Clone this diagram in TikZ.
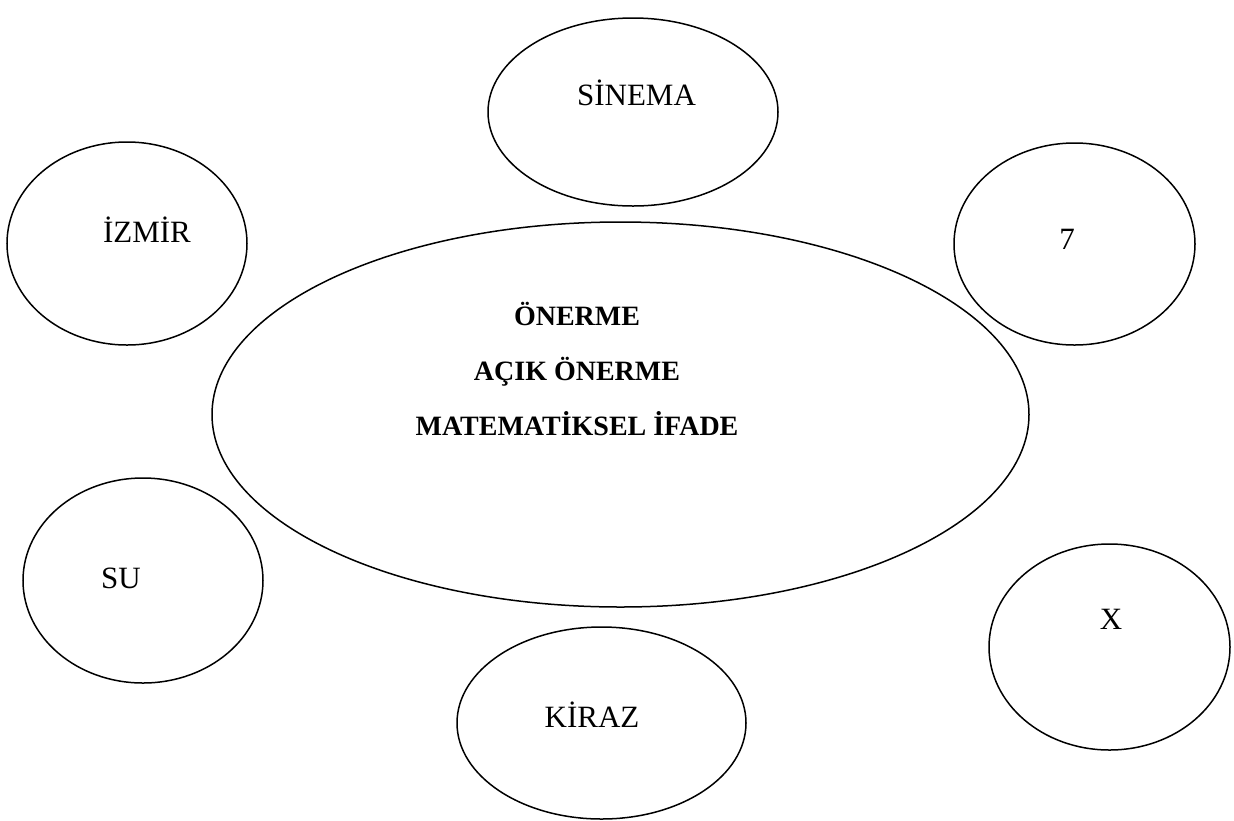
\documentclass[tikz,border=0pt]{standalone}
\usepackage{fontspec}
\setmainfont{Liberation Serif}
\usetikzlibrary{shapes}
\tikzset{
	oval/.style={draw,ellipse,line width=1.5pt,inner sep=0pt},
	word/.style={anchor=base,font=\fontsize{31}{36}\selectfont},
	bword/.style={anchor=base,font=\fontsize{28}{34}\selectfont\bfseries}
}
\begin{document}
\begin{tikzpicture}[x=1pt,y=-1pt]
\useasboundingbox (0,0) rectangle (1234,820);

%
\node[oval,minimum width=290,minimum height=188] (sinema) at (633,112) {};
\node[word] (tsinema) at (636.5,105) {SİNEMA};
\node[oval,minimum width=240,minimum height=203] (izmir) at (127,243.5) {};
\node[word] (tizmir) at (147,242) {İZMİR};
\node[oval,minimum width=241,minimum height=202] (yedi) at (1074.5,244) {};
\node[word] (tyedi) at (1067,249) {7};
\node[oval,minimum width=817,minimum height=385] (merkez) at (620.5,414.5) {};
\node[bword] (t1) at (577,325) {ÖNERME};
\node[bword] (t2) at (577,380) {AÇIK ÖNERME};
\node[bword] (t3) at (577,435) {MATEMATİKSEL İFADE};
\node[oval,minimum width=240,minimum height=205] (su) at (143,580.5) {};
\node[word] (tsu) at (121,588) {SU};
\node[oval,minimum width=241,minimum height=206] (x) at (1109.5,647) {};
\node[word] (tx) at (1111,629) {X};
\node[oval,minimum width=289,minimum height=192] (kiraz) at (601.5,723) {};
\node[word] (tkiraz) at (592,727) {KİRAZ};
%\draw[thick] (620,415) ellipse (408 and 193);

\end{tikzpicture}
\end{document}
